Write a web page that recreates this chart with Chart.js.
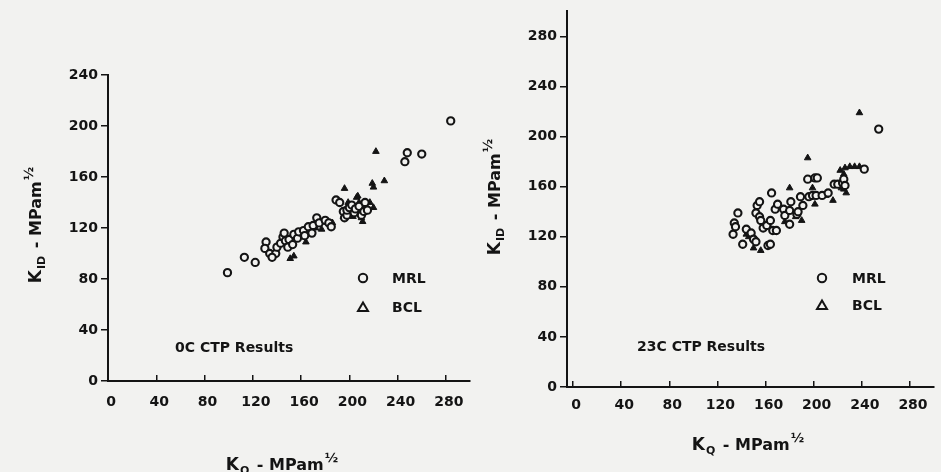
<!DOCTYPE html>
<html>
<head>
<meta charset="utf-8">
<script src="https://cdn.jsdelivr.net/npm/chart.js@4.4.1/dist/chart.umd.min.js"></script>
<style>
  html, body { margin: 0; padding: 0; background: #f2f2f0; }
  #wrap { position: relative; width: 941px; height: 472px; overflow: hidden; }
  canvas { position: absolute; top: 0; }
  #left { left: 0; }
  #right { left: 480px; }
</style>
</head>
<body>
<div id="wrap">
  <canvas id="left" width="480" height="472"></canvas>
  <canvas id="right" width="461" height="472"></canvas>
</div>
<script>
// tick labels
const xTicks = [0, 40, 80, 120, 160, 200, 240, 280];
const yTicks0C = [0, 40, 80, 120, 160, 200, 240];
const yTicks23C = [0, 40, 80, 120, 160, 200, 240, 280];

// 0C CTP results  [K_Q, K_ID]
const mrl0C = [
  [99, 85], [113, 97], [122, 93], [131, 109], [130, 104], [134, 100], [139, 100], [136, 97],
  [140, 105], [143, 108], [145, 113], [146, 116], [147, 110], [150, 111], [149, 105], [153, 107],
  [154, 115], [157, 112], [158, 117], [162, 118], [163, 114], [166, 121], [169, 116], [170, 122],
  [173, 128], [175, 124], [180, 126], [183, 124], [185, 121], [189, 142], [192, 140], [195, 133],
  [196, 128], [198, 130], [198, 134], [200, 136], [202, 138], [204, 132], [205, 135], [208, 137],
  [210, 130], [212, 133], [213, 140], [215, 134], [246, 172], [248, 179], [260, 178], [284, 204]
];
const bcl0C = [
  [151, 96], [154, 98], [160, 113], [164, 109], [172, 120], [177, 119], [186, 124], [195, 129],
  [196, 151], [199, 140], [202, 133], [203, 129], [204, 136], [206, 144], [207, 145], [208, 140],
  [210, 128], [211, 125], [212, 134], [214, 137], [217, 140], [219, 155], [220, 152], [220, 136],
  [222, 180], [229, 157]
];

// 23C CTP results  [K_Q, K_ID]
const mrl23C = [
  [133, 122], [134, 131], [135, 128], [137, 139], [141, 114], [144, 126], [148, 123], [150, 118],
  [152, 116], [152, 139], [153, 145], [155, 148], [155, 136], [156, 133], [158, 127], [161, 129],
  [162, 113], [164, 133], [164, 114], [165, 155], [166, 125], [168, 142], [169, 125], [170, 146],
  [175, 142], [176, 137], [180, 130], [180, 141], [181, 148], [186, 138], [187, 140], [189, 152],
  [191, 145], [195, 166], [196, 152], [199, 153], [201, 167], [203, 167], [202, 153], [207, 153],
  [212, 155], [217, 162], [220, 162], [224, 163], [225, 166], [226, 161], [242, 174], [254, 206]
];
const bcl23C = [
  [144, 122], [146, 120], [150, 111], [156, 109], [162, 130], [176, 132], [180, 159], [185, 136],
  [190, 133], [195, 183], [198, 166], [199, 159], [201, 146], [210, 153], [216, 149], [223, 159],
  [225, 158], [227, 155], [225, 170], [222, 173], [226, 175], [230, 176], [234, 176], [238, 176],
  [238, 219]
];

const FONT = '"DejaVu Sans", sans-serif';
const INK = '#141414';
const PAPER = '#f2f2f0';

function toPoints(arr) {
  return arr.map(p => ({ x: p[0], y: p[1] }));
}

// text made of pieces with sub/superscripts
function drawRich(ctx, parts, cx, cy, angle) {
  ctx.save();
  ctx.translate(cx, cy);
  ctx.rotate(angle);
  ctx.fillStyle = INK;
  ctx.textBaseline = 'alphabetic';
  ctx.textAlign = 'left';
  let total = 0;
  parts.forEach(p => {
    ctx.font = 'bold ' + p.size + 'px ' + FONT;
    p.w = ctx.measureText(p.text).width + (p.gap || 0);
    total += p.w;
  });
  let x = -total / 2;
  parts.forEach(p => {
    ctx.font = 'bold ' + p.size + 'px ' + FONT;
    ctx.fillText(p.text, x, 6 + (p.dy || 0));
    x += p.w;
  });
  ctx.restore();
}

const decorations = {
  id: 'decorations',
  afterDraw(chart, args, opts) {
    const ctx = chart.ctx;
    // legend
    const ds = chart.data.datasets;
    ctx.save();
    ctx.strokeStyle = INK;
    ctx.fillStyle = INK;
    ctx.lineWidth = 2;
    ctx.font = 'bold 14px ' + FONT;
    ctx.textBaseline = 'middle';
    ctx.textAlign = 'left';
    ds.forEach((d, i) => {
      const y = opts.legendY[i];
      ctx.beginPath();
      if (d.pointStyle === 'circle') {
        ctx.arc(opts.legendX, y, 4.2, 0, Math.PI * 2);
      } else {
        ctx.moveTo(opts.legendX, y - 4.5);
        ctx.lineTo(opts.legendX + 5, y + 4);
        ctx.lineTo(opts.legendX - 5, y + 4);
        ctx.closePath();
      }
      ctx.stroke();
      ctx.fillText(d.label, opts.legendTextX, y + 1);
    });
    // note
    ctx.fillText(opts.note, opts.noteX, opts.noteY);
    ctx.restore();

    // axis titles
    drawRich(ctx, [
      { text: 'K', size: 17, gap: 1 },
      { text: 'ID', size: 11, dy: 4, gap: 2 },
      { text: ' - MPam', size: 16, gap: 1 },
      { text: '½', size: 13, dy: -8 }
    ], opts.yTitle[0], opts.yTitle[1], -Math.PI / 2);
    drawRich(ctx, [
      { text: 'K', size: 17, gap: 1 },
      { text: 'Q', size: 11, dy: 4, gap: 2 },
      { text: ' - MPam', size: 16, gap: 1 },
      { text: '½', size: 13, dy: -8 }
    ], opts.xTitle[0], opts.xTitle[1], 0);
  }
};

function makeChart(id, mrl, bcl, cfg) {
  const ctx = document.getElementById(id).getContext('2d');
  return new Chart(ctx, {
    type: 'scatter',
    data: {
      datasets: [
        {
          label: 'MRL',
          data: toPoints(mrl),
          pointStyle: 'circle',
          pointRadius: 3.6,
          borderWidth: 2.1,
          borderColor: INK,
          backgroundColor: PAPER
        },
        {
          label: 'BCL',
          data: toPoints(bcl),
          pointStyle: 'triangle',
          pointRadius: 3.8,
          borderWidth: 1,
          borderColor: INK,
          backgroundColor: INK
        }
      ]
    },
    options: {
      responsive: false,
      animation: false,
      events: [],
      layout: { padding: cfg.padding },
      plugins: {
        legend: { display: false },
        tooltip: { enabled: false },
        decorations: cfg.deco
      },
      scales: {
        x: {
          type: 'linear',
          min: cfg.xMin,
          max: 300,
          afterBuildTicks: s => { s.ticks = xTicks.map(v => ({ value: v })); },
          afterFit: s => { s.height = cfg.xHeight; },
          border: { display: true, color: INK, width: 2 },
          grid: { drawOnChartArea: false, drawTicks: true, tickLength: -6, color: INK, lineWidth: 1.5 },
          ticks: {
            color: INK,
            font: { family: FONT, size: 14, weight: 'bold' },
            padding: cfg.xPad,
            labelOffset: 3,
            maxRotation: 0,
            autoSkip: false
          }
        },
        y: {
          type: 'linear',
          min: 0,
          max: cfg.yMax,
          afterBuildTicks: s => { s.ticks = cfg.yTicks.map(v => ({ value: v })); },
          afterFit: s => { s.width = cfg.yWidth; },
          border: { display: true, color: INK, width: 2 },
          grid: { drawOnChartArea: false, drawTicks: true, tickLength: 7, color: INK, lineWidth: 1.5 },
          ticks: {
            color: INK,
            font: { family: FONT, size: 14, weight: 'bold' },
            padding: 3,
            autoSkip: false
          }
        }
      }
    },
    plugins: [decorations]
  });
}

makeChart('left', mrl0C, bcl0C, {
  padding: { top: 75, right: 7.5, left: 0, bottom: 0 },
  xMin: 0, yMax: 240, yTicks: yTicks0C,
  xHeight: 91, yWidth: 108, xPad: 19,
  deco: {
    legendX: 363, legendTextX: 392, legendY: [278, 307],
    note: '0C CTP Results', noteX: 175, noteY: 348,
    yTitle: [35, 225], xTitle: [282, 464]
  }
});

makeChart('right', mrl23C, bcl23C, {
  padding: { top: 6.6, right: 3, left: 0, bottom: 0 },
  xMin: -5, yMax: 300, yTicks: yTicks23C,
  xHeight: 85, yWidth: 87, xPad: 16,
  deco: {
    legendX: 342, legendTextX: 372, legendY: [278, 305],
    note: '23C CTP Results', noteX: 157, noteY: 347,
    yTitle: [14, 197], xTitle: [268, 444]
  }
});
</script>
</body>
</html>
